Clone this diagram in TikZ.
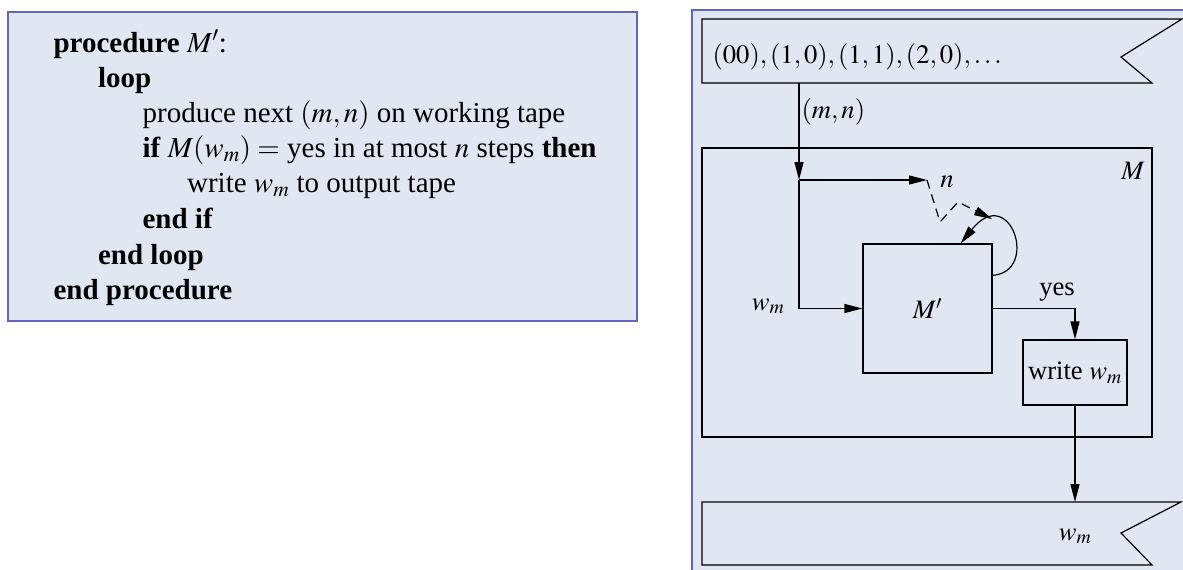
\documentclass[tikz,border=0pt]{standalone}
\usepackage{mathptmx}
\usepackage{fontspec}
\setmainfont{Liberation Serif}
\usetikzlibrary{arrows.meta,positioning}

\definecolor{panelfill}{RGB}{225,231,242}
\definecolor{panelrim}{RGB}{100,100,185}

\tikzset{
  arr/.style={-{Triangle[length=18pt,width=9pt]}},
  codeline/.style={anchor=base west,inner sep=0pt,font=\fontsize{29}{34}\selectfont},
  lbl/.style={inner sep=0pt,font=\fontsize{26.6}{31}\selectfont},
  blk/.style={draw,inner sep=0pt,font=\fontsize{26.6}{31}\selectfont},
}

\begin{document}
\begin{tikzpicture}[x=1pt, y=-1pt, line width=1.2pt, line join=miter]

  %% ════ 左边：程序框 ════
  \node[draw=panelrim,fill=panelfill,line width=2pt,inner sep=0pt,
        minimum width=629pt,minimum height=309pt] (progbox) at (322.5,166.5) {};
  \node[codeline] (l0) at (53,52)    {\textbf{procedure} $M'$:};
  \node[codeline] (l1) at (97.5,87)  {\textbf{loop}};
  \node[codeline] (l2) at (142,122)  {produce next $(m,n)$ on working tape};
  \node[codeline] (l3) at (142,157)  {\textbf{if} $M(w_m) =$ yes in at most $n$ steps \textbf{then}};
  \node[codeline] (l4) at (186.5,192) {write $w_m$ to output tape};
  \node[codeline] (l5) at (142,228)  {\textbf{end if}};
  \node[codeline] (l6) at (97.5,264) {\textbf{end loop}};
  \node[codeline] (l7) at (53,299)   {\textbf{end procedure}};

  %% ════ 右边：底板（超出画布部分裁掉）════
  \begin{scope}
    \clip (0,0) rectangle (1183,570);
    \draw[panelrim,fill=panelfill,line width=2pt] (692,10) rectangle (1230,620);
  \end{scope}

  %% ════ 两条纸带 ════
  \draw (702,19) -- (1182,19) -- (1121,57) -- (1152,83) -- (702,83) -- cycle;
  \draw (702,502) -- (1181,502) -- (1121,533) -- (1152,565) -- (702,565) -- cycle;
  \node[lbl,anchor=base west] (pairs) at (712,63.5) {$(00),(1,0),(1,1),(2,0),\ldots$};
  \node[lbl,anchor=base] (wout) at (1075,540) {$w_m$};
  \coordinate (intape)  at (799,83);
  \coordinate (outtape) at (1075,502);

  %% ════ 机器 M 与里面的方块 ════
  \node[blk,minimum width=450pt,minimum height=289pt] (mbox) at (927,292.5) {};
  \node[lbl,anchor=base] (mlab) at (1133,179) {$M$};
  \node[blk,minimum width=129pt,minimum height=129pt] (mprime) at (927.5,308.5) {$M'$};
  \node[blk,minimum width=104pt,minimum height=65pt] (writebox) at (1075,372.5) {write $w_m$};

  %% ════ 连线 ════
  \coordinate (jn)   at (799,180);
  \coordinate (ntip) at (927,180);
  \coordinate (zz1)  at (940,222);
  \coordinate (zz2)  at (958,202);
  \coordinate (looptop) at (992,219);
  \node[lbl,anchor=base west] (mnlab) at (801,118) {$(m,n)$};
  \node[lbl,anchor=base] (nlab) at (947,187) {$n$};
  \node[lbl,anchor=base] (wmlab) at (768,310) {$w_m$};
  \node[lbl,anchor=base] (yeslab) at (1057,295) {yes};

  \draw[arr] (intape) -- (jn);
  \draw[arr] (jn) -- (ntip);
  \draw[arr] (jn) |- (mprime.west);
  \draw[arr,dash pattern=on 9pt off 6pt] (ntip) -- (zz1) -- (zz2) -- (looptop);
  \draw[arr] (mprime.27) .. controls (1040,272) and (1010,182) .. (mprime.63);
  \draw[arr] (mprime.east) -| (writebox.north);
  \draw[arr] (writebox.south) -- (outtape);

  % 钉死画布
  \pgfresetboundingbox
  \path[use as bounding box] (0,0) rectangle (1183,570);
\end{tikzpicture}
\end{document}
